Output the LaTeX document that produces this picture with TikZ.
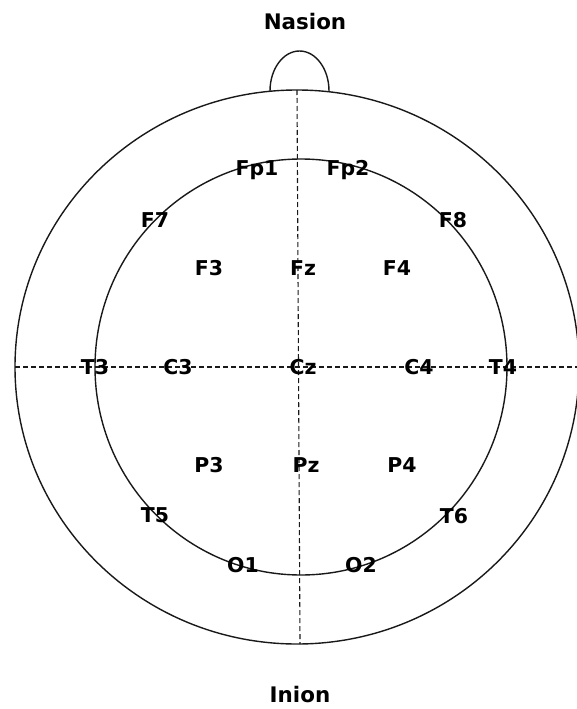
\documentclass[tikz,border=0pt]{standalone}
\usepackage{fontspec}
\setmainfont{DejaVu Sans}
\begin{document}
\begin{tikzpicture}[x=1bp,y=-1bp,
  lbl/.style={font=\fontsize{20.5}{22}\selectfont\bfseries, inner sep=0pt, text=black},
  ttl/.style={font=\fontsize{21.5}{24}\selectfont\bfseries, inner sep=0pt, text=black},
  headline/.style={line width=1.4bp, draw=black!90},
  axis/.style={line width=1.1bp, draw=black!90, dash pattern=on 5bp off 3bp}]
\useasboundingbox (0,0) rectangle (577,709);
% head outlines
\draw[headline] (297,367) ellipse [x radius=282, y radius=277];
\draw[headline] (301,367) ellipse [x radius=206, y radius=208];
% nose
\draw[headline] (270,91) arc[start angle=180, end angle=360, x radius=29.5, y radius=40];
% axes
\coordinate (top) at (297,90);
\coordinate (bot) at (300,644);
\coordinate (lft) at (15,367);
\coordinate (rgt) at (577,367);
\draw[axis] (top) -- (bot);
\draw[axis] (lft) -- (rgt);
% titles
\node[ttl] (nasion) at (305,22) {Nasion};
\node[ttl] (inion) at (300,695) {Inion};
% electrodes
\node[lbl] (fp1) at (257,170) {Fp1};
\node[lbl] (fp2) at (348,170) {Fp2};
\node[lbl] (f7) at (155,220) {F7};
\node[lbl] (f8) at (453,220) {F8};
\node[lbl] (f3) at (209,268) {F3};
\node[lbl] (fz) at (303,268) {Fz};
\node[lbl] (f4) at (397,268) {F4};
\node[lbl] (t3) at (95,367) {T3};
\node[lbl] (c3) at (178,367) {C3};
\node[lbl] (cz) at (303,367) {Cz};
\node[lbl] (c4) at (419,367) {C4};
\node[lbl] (t4) at (503,367) {T4};
\node[lbl] (p3) at (209,465) {P3};
\node[lbl] (pz) at (306,465) {Pz};
\node[lbl] (p4) at (402,465) {P4};
\node[lbl] (t5) at (155,515) {T5};
\node[lbl] (t6) at (454,516) {T6};
\node[lbl] (o1) at (243,565) {O1};
\node[lbl] (o2) at (361,565) {O2};
\end{tikzpicture}
\end{document}
